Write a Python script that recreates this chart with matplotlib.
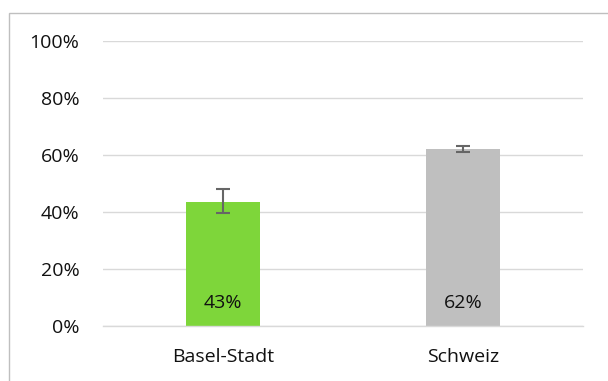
import matplotlib
matplotlib.use('Agg')
import matplotlib.pyplot as plt
from matplotlib.patches import Rectangle

categories = ['Basel-Stadt', 'Schweiz']
values = [43.5, 62.1]
err_low = [39.5, 61.1]
err_high = [48.0, 63.3]
labels = ['43%', '62%']
colors = ['#7ed63a', '#bfbfbf']

plt.rcParams['font.family'] = ['Open Sans', 'DejaVu Sans']

fig = plt.figure(figsize=(6.08, 3.81), dpi=100)
ax = fig.add_axes([103/608, 1-326/381, 480/608, 285/381])

x = [0, 1]
yerr = [[v - lo for v, lo in zip(values, err_low)], [hi - v for v, hi in zip(values, err_high)]]
ax.bar(x, values, width=0.31, color=colors, zorder=2)
ax.errorbar(x, values, yerr=yerr, fmt='none', ecolor='#666666', elinewidth=1.5, capsize=5, capthick=1.5, zorder=3)
for xi, lab in zip(x, labels):
    ax.text(xi, 8.0, lab, ha='center', va='center', fontsize=14, color='#111111', zorder=4)

ax.set_xlim(-0.5, 1.5)
ax.set_ylim(0, 100)
ax.set_yticks([0, 20, 40, 60, 80, 100])
ax.set_yticklabels(['0%', '20%', '40%', '60%', '80%', '100%'])
ax.set_xticks(x)
ax.set_xticklabels(categories)
ax.tick_params(axis='both', length=0, labelsize=14, colors='#111111')
ax.tick_params(axis='y', pad=17)
ax.tick_params(axis='x', pad=16)
ax.grid(axis='y', color='#d9d9d9', linewidth=1, zorder=0)
for s in ['top', 'right', 'left']:
    ax.spines[s].set_visible(False)
ax.spines['bottom'].set_color('#d9d9d9')
ax.spines['bottom'].set_linewidth(1)

fig.patches.append(Rectangle((8.5/608, -0.05), 1.0, 1 - 12.5/381 + 0.05, transform=fig.transFigure,
                             fill=False, edgecolor='#bfbfbf', linewidth=1))

plt.savefig('out.png', dpi=100)
